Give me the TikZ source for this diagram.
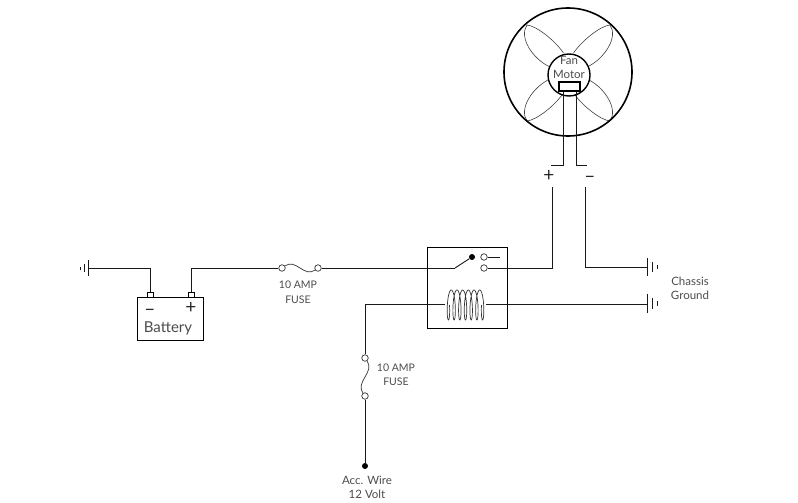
\documentclass[tikz,border=0pt]{standalone}
\usepackage{fontspec}
\setmainfont{Lato}
\tikzset{
	wire/.style={line width=.9pt,black!90},
	lbl/.style={font=\fontsize{10.5}{12}\selectfont,text=black!70,inner sep=0pt},
	lblbig/.style={font=\fontsize{11.5}{12}\selectfont,text=black!70,inner sep=0pt},
	sign/.style={font=\fontsize{19}{19}\selectfont,text=black!85,inner sep=0pt},
	contact/.style={circle,draw=black!80,fill=white,line width=.7pt,minimum size=6.5pt,inner sep=0pt},
	blob/.style={circle,fill=black,minimum size=6pt,inner sep=0pt},
	blade/.style={draw=black!75,line width=.6pt}
}
\begin{document}
\begin{tikzpicture}[x=1pt,y=-1pt]
	\useasboundingbox (0,0) rectangle (798,503);
	% fan
	\foreach \sx/\sy in {1/1,-1/1,1/-1,-1/-1}
		\draw[blade,shift={(568.5,73)},xscale=\sx,yscale=\sy]
			(-5,-20) .. controls (-14,-33) and (-32,-47) .. (-41.5,-48)
			.. controls (-50,-36) and (-36,-14) .. (-18.5,-6);
	\node[circle,draw,fill=white,line width=1.4pt,minimum size=42pt,inner sep=0pt] (hub) at (569,75) {};
	\node[circle,draw,line width=1.6pt,minimum size=128pt,inner sep=0pt] (fan) at (568,72) {};
	\node[lblbig] (fantxt) at (569,60.5) {Fan};
	\node[lblbig] (motortxt) at (569,74) {Motor};
	\node[draw,line width=2.2pt,minimum width=21pt,minimum height=9pt,inner sep=0pt] (plug) at (569.5,86.5) {};
	\coordinate (plugl) at (563,92);
	\coordinate (plugr) at (576,92);
	\coordinate (fanplus) at (551,165);
	\coordinate (fanminus) at (587,165);
	\draw[wire] (plugl) |- (fanplus);
	\draw[wire] (plugr) |- (fanminus);
	\node[sign] (plus) at (549,176) {+};
	\node[sign] (minus) at (590,179) {\textendash};
	% relay
	\node[draw,line width=.9pt,minimum width=80pt,minimum height=81pt,inner sep=0pt] (relay) at (467,287.5) {};
	\node[blob] (swdot) at (472,257) {};
	\coordinate (swbase) at (455,268);
	\node[contact] (conta) at (484,257) {};
	\node[contact] (contb) at (484,268) {};
	\coordinate (contaend) at (500,257);
	\draw[wire] (swbase) -- (swdot);
	\draw[wire] (conta) -- (contaend);
	\coordinate (coila) at (445,304);
	\coordinate (coilb) at (486,304);
	\draw[line width=.7pt,black!80,smooth,samples=240,domain=-90:2250,variable=\t]
		plot ({447+(\t+90)/2340*37-2.5*sin(\t)},{305+15*cos(\t)});
	% battery
	\node[draw,line width=.9pt,minimum width=66pt,minimum height=43pt,inner sep=0pt] (batt) at (170,318.5) {};
	\node[draw,line width=.8pt,minimum width=6pt,minimum height=5pt,inner sep=0pt] (termneg) at (150,294.5) {};
	\node[draw,line width=.8pt,minimum width=6pt,minimum height=5pt,inner sep=0pt] (termpos) at (191,294.5) {};
	\node[sign] (battminus) at (150,312) {\textendash};
	\node[sign] (battplus) at (191,307.5) {+};
	\node[lbl,font=\fontsize{15}{15}\selectfont] (batttxt) at (168,328.5) {Battery};
	% grounds
	\coordinate (gnda) at (88,268);
	\coordinate (gndb) at (647,267);
	\coordinate (gndc) at (647,304);
	\draw[wire] (88,260) -- (88,276) (84,264) -- (84,272) (80,266.5) -- (80,269.5);
	\draw[wire] (647,258) -- (647,276) (652,262) -- (652,272) (657,265) -- (657,269);
	\draw[wire] (647,294) -- (647,313) (652,298) -- (652,309) (657,301) -- (657,306);
	\node[lblbig] (chassis) at (690,281) {Chassis};
	\node[lblbig] (ground) at (690,295) {Ground};
	% fuses
	\node[contact] (fusea) at (282,268) {};
	\node[contact] (fuseb) at (318,268) {};
	\draw[line width=.7pt,black!80] (fusea) .. controls (296,258) and (304,278) .. (fuseb);
	\node[lbl] (fuseatxt) at (298,285) {10 AMP};
	\node[lbl] (fuseatxtb) at (298,300) {FUSE};
	\node[contact] (fusec) at (365,358) {};
	\node[contact] (fused) at (365,396) {};
	\draw[line width=.7pt,black!80] (fusec) .. controls (375,372) and (355,382) .. (fused);
	\node[lbl] (fusectxt) at (396,368) {10 AMP};
	\node[lbl] (fusectxtb) at (396,382) {FUSE};
	\node[blob] (acc) at (365,466) {};
	\node[lblbig] (acctxt) at (367,480) {Acc. Wire};
	\node[lblbig] (acctxtb) at (367,494) {12 Volt};
	% wires
	\coordinate (fromplus) at (552,187);
	\coordinate (fromminus) at (585,187);
	\coordinate (corner) at (365,304);
	\draw[wire] (gnda) -| (termneg);
	\draw[wire] (termpos) |- (fusea);
	\draw[wire] (fuseb) -- (swbase);
	\draw[wire] (contb) -| (fromplus);
	\draw[wire] (fromminus) |- (gndb);
	\draw[wire] (coilb) -- (gndc);
	\draw[wire] (coila) -- (corner) -- (fusec);
	\draw[wire] (fused) -- (acc);
\end{tikzpicture}
\end{document}
